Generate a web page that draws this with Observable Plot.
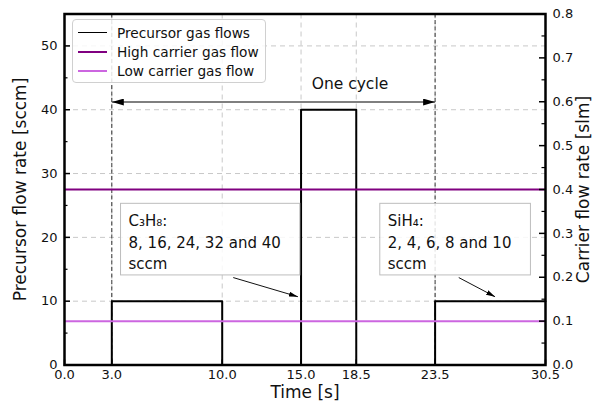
<!DOCTYPE html>
<html>
<head>
<meta charset="utf-8">
<script src="https://cdn.jsdelivr.net/npm/d3@7"></script>
<script src="https://cdn.jsdelivr.net/npm/@observablehq/plot@0.6"></script>
<style>
  body { margin: 0; background: #fff; font-family: "DejaVu Sans", sans-serif; }
  #chart { position: relative; width: 595px; height: 412px; }
  #legend { position: absolute; left: 72px; top: 19px; width: 194px; height: 64px; box-sizing: border-box;
            border: 1px solid #d0d0d0; border-radius: 4px; background: rgba(255,255,255,0.85);
            font-size: 13.7px; color: #111; padding-top: 3px; }
  .row { display: flex; align-items: center; height: 19px; }
  .swatch { width: 29px; height: 0; margin-left: 5px; margin-right: 10px; }
</style>
</head>
<body>
<div id="chart"></div>
<script>
// ---------- data ----------
const time = [0, 3, 10, 15, 18.5, 23.5, 30.5];            // s (step starts)
const precursorFlow = [0, 10, 0, 40, 0, 10, 10];          // sccm
const legendLabels = ["Precursor gas flows", "High carrier gas flow", "Low carrier gas flow"];
const carrierFlow = [0.4, 0.1];                            // slm (high, low)
const xTicks = [0, 3, 10, 15, 18.5, 23.5, 30.5];
const yTicks = [0, 10, 20, 30, 40, 50];
const yMinorTicks = [5, 15, 25, 35, 45];
const carrierTicks = [0, 0.1, 0.2, 0.3, 0.4, 0.5, 0.6, 0.7, 0.8];
const carrierMinorTicks = [0.05, 0.15, 0.25, 0.35, 0.45, 0.55, 0.65, 0.75];
const precursorMax = 55, carrierMax = 0.8, timeMax = 30.5;
const cycleBounds = [3, 23.5];
const cycleArrowLevel = [41.2];
const cycleLabel = [{text: "One cycle", x: 18.1, y: 44.1}];
const annotations = [
  {text: "C₃H₈:\n8, 16, 24, 32 and 40\nsccm", x: 4.06, y: 24.1, tailX: 10.7, tailY: 13.7, tipX: 14.8, tipY: 10.7},
  {text: "SiH₄:\n2, 4, 6, 8 and 10\nsccm", x: 20.5, y: 24.1, tailX: 25.0, tailY: 13.7, tipX: 27.3, tipY: 10.7}
];

// ---------- styles ----------
const colors = ["#000000", "#800080", "#cc66e0"];
const W = 595, H = 412;
const M = {top: 13.5, right: 50, bottom: 47.5, left: 64};
const plotW = W - M.left - M.right, plotH = H - M.top - M.bottom;
const k = precursorMax / carrierMax;
const gridStyle = {stroke: "#c8c8c8", strokeOpacity: 1, strokeDasharray: "5,4", strokeWidth: 1};

const steps = time.map((t, i) => ({t, f: precursorFlow[i]}));
const carriers = carrierFlow.map((v, i) => ({v: v * k, c: colors[i + 1]}));
const cycle = cycleArrowLevel.map(y => ({x1: cycleBounds[0], x2: cycleBounds[1], y}));

const chart = Plot.plot({
  width: W, height: H,
  marginTop: M.top, marginRight: M.right, marginBottom: M.bottom, marginLeft: M.left,
  x: {domain: [0, timeMax]},
  y: {domain: [0, precursorMax]},
  color: {type: "identity"},
  style: {fontFamily: "DejaVu Sans, sans-serif", fontSize: "13px", color: "#111", background: "white", overflow: "visible"},
  marks: [
    Plot.gridY(yTicks.filter(d => d > 0), gridStyle),
    Plot.gridX(xTicks.filter(d => d > 0 && d < timeMax), gridStyle),
    Plot.ruleX(cycleBounds, {stroke: "#333", strokeDasharray: "4,2.5", strokeWidth: 1}),
    Plot.line(steps, {x: "t", y: "f", curve: "step-after", stroke: colors[0], strokeWidth: 2}),
    Plot.ruleY(carriers, {y: "v", stroke: "c", strokeWidth: 2}),
    Plot.link(cycle, {x1: "x1", x2: "x2", y1: "y", y2: "y", stroke: "#555", strokeWidth: 1.5,
      ariaLabel: () => "cycle-arrow", ariaDescription: "cycle-arrow"}),
    Plot.text(cycleLabel, {x: "x", y: "y", text: "text", fontSize: 15.5, fill: "#111"}),
    Plot.text(annotations, {x: "x", y: "y", text: "text", textAnchor: "start", lineAnchor: "top", lineHeight: 1.42,
      fontSize: 15, fill: "#111", ariaLabel: () => "annotation", ariaDescription: "annotation"}),
    Plot.link(annotations, {x1: "tailX", y1: "tailY", x2: "tipX", y2: "tipY", stroke: "#111", strokeWidth: 1,
      ariaLabel: () => "annotation-arrow", ariaDescription: "annotation-arrow"}),
    // inward ticks
    Plot.tickY(yTicks, {y: d => d, insetRight: plotW - 6, strokeWidth: 1.5, stroke: "#000"}),
    Plot.tickY(yMinorTicks, {y: d => d, insetRight: plotW - 3.5, strokeWidth: 1.2, stroke: "#000"}),
    Plot.tickY(carrierTicks, {y: d => d * k, insetLeft: plotW - 6, strokeWidth: 1.5, stroke: "#000"}),
    Plot.tickY(carrierMinorTicks, {y: d => d * k, insetLeft: plotW - 3.5, strokeWidth: 1.2, stroke: "#000"}),
    Plot.tickX(xTicks, {x: d => d, insetTop: plotH - 5, strokeWidth: 1.5, stroke: "#000"}),
    // tick labels
    Plot.axisY(yTicks, {anchor: "left", tickSize: 0, tickPadding: 7, label: null, fontSize: 13}),
    Plot.axisY(carrierTicks.map(d => d * k), {anchor: "right", tickSize: 0, tickPadding: 7, label: null, fontSize: 13,
      tickFormat: d => (d / k).toFixed(1)}),
    Plot.axisX(xTicks, {anchor: "bottom", tickSize: 0, tickPadding: 5, label: null, fontSize: 13,
      tickFormat: d => d.toFixed(1)}),
    // axis titles
    Plot.text(["Precursor flow rate [sccm]"], {frameAnchor: "left", textAnchor: "middle", rotate: -90, dx: -44, fontSize: 17, fill: "#111"}),
    Plot.text(["Carrier flow rate [slm]"], {frameAnchor: "right", textAnchor: "middle", rotate: -90, dx: 38, fontSize: 17, fill: "#111"}),
    Plot.text(["Time [s]"], {frameAnchor: "bottom", dy: 33, fontSize: 17, fill: "#111"}),
    Plot.frame({stroke: "#000", strokeWidth: 2.5})
  ]
});

const container = document.getElementById("chart");
container.appendChild(chart);

// arrowheads
const svgEl = chart.tagName.toLowerCase() === "svg" ? chart : chart.querySelector("svg");
const svg = d3.select(svgEl);
const defs = svg.insert("defs", ":first-child");
function addMarker(id, len, wid) {
  defs.append("marker").attr("id", id).attr("viewBox", `0 0 ${len} ${wid}`)
    .attr("refX", len).attr("refY", wid / 2).attr("markerUnits", "userSpaceOnUse")
    .attr("markerWidth", len).attr("markerHeight", wid).attr("orient", "auto-start-reverse")
    .append("path").attr("d", `M0,0L${len},${wid / 2}L0,${wid}Z`).attr("fill", "#000");
}
addMarker("headBig", 12, 7);
addMarker("headSmall", 9, 5);
function labeled(name, tag) {
  const out = new Set();
  svgEl.querySelectorAll(`[aria-label="${name}"], [aria-description="${name}"]`).forEach(el => {
    if (el.tagName.toLowerCase() === tag) out.add(el);
    else el.querySelectorAll(tag).forEach(e => out.add(e));
  });
  return [...out];
}
labeled("cycle-arrow", "path").forEach(p => {
  p.setAttribute("marker-start", "url(#headBig)");
  p.setAttribute("marker-end", "url(#headBig)");
});
labeled("annotation-arrow", "path").forEach(p => p.setAttribute("marker-end", "url(#headSmall)"));

// annotation boxes
labeled("annotation", "text").forEach(t => {
  const b = t.getBBox();
  const padX = 8, padTop = 9, padBottom = 2;
  const r = document.createElementNS("http://www.w3.org/2000/svg", "rect");
  r.setAttribute("x", b.x - padX);
  r.setAttribute("y", b.y - padTop);
  r.setAttribute("width", b.width + 2 * padX + 11);
  r.setAttribute("height", b.height + padTop + padBottom);
  r.setAttribute("fill", "white");
  r.setAttribute("fill-opacity", "0.85");
  r.setAttribute("stroke", "#bdbdbd");
  r.setAttribute("stroke-width", "1");
  const tr = t.getAttribute("transform");
  if (tr) r.setAttribute("transform", tr);
  t.parentNode.insertBefore(r, t);
});

// legend
const legend = document.createElement("div");
legend.id = "legend";
legendLabels.forEach((lab, i) => {
  const row = document.createElement("div");
  row.className = "row";
  const sw = document.createElement("div");
  sw.className = "swatch";
  sw.style.borderTop = `${i === 0 ? 1.5 : 2}px solid ${colors[i]}`;
  const t = document.createElement("span");
  t.textContent = lab;
  row.appendChild(sw); row.appendChild(t);
  legend.appendChild(row);
});
container.appendChild(legend);
</script>
</body>
</html>
